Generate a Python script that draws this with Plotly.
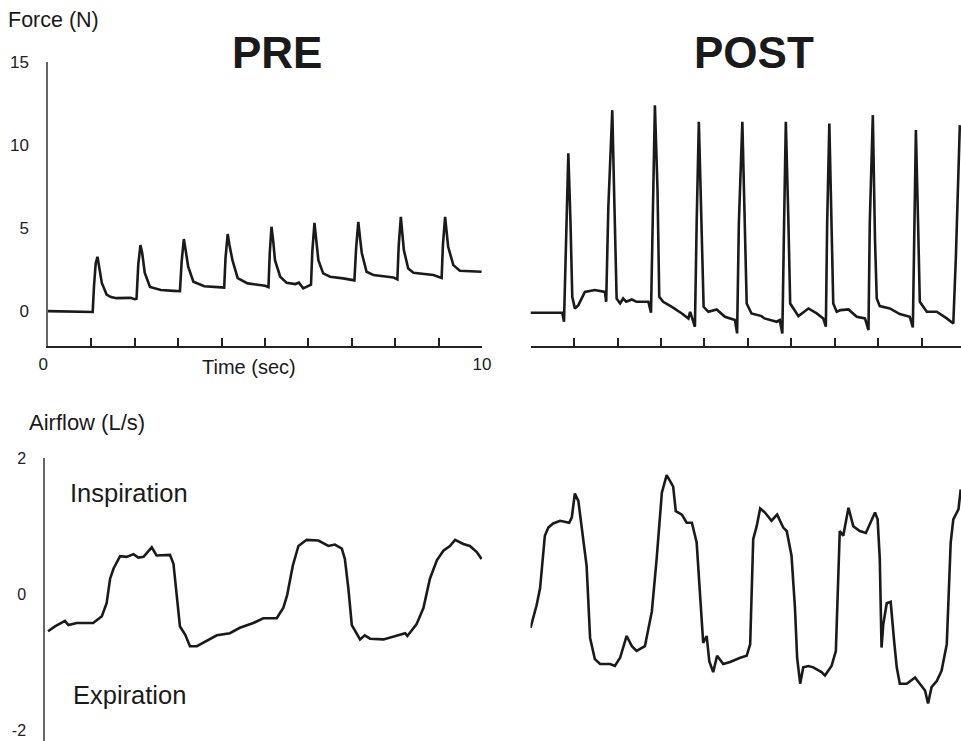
import plotly.graph_objects as go

W, H = 961, 741

# ---------------- data ----------------
pre_force_t = [0.0, 0.5, 1.0, 1.03, 1.06, 1.10, 1.14, 1.18, 1.24, 1.35, 1.45, 1.58, 1.9, 2.0, 2.04,
               2.08, 2.13, 2.17, 2.23, 2.35, 2.6, 2.9, 3.04, 3.08, 3.13, 3.17, 3.23, 3.35, 3.6, 4.0,
               4.06, 4.09, 4.14, 4.18, 4.25, 4.37, 4.6, 5.0, 5.08, 5.11, 5.15, 5.19, 5.23, 5.35, 5.5,
               5.7, 5.78, 5.88, 6.02, 6.06, 6.09, 6.14, 6.18, 6.23, 6.34, 6.5, 6.8, 7.02, 7.06, 7.10,
               7.15, 7.19, 7.23, 7.34, 7.5, 7.96, 8.05, 8.08, 8.13, 8.16, 8.2, 8.3, 8.42, 8.88, 9.03,
               9.07, 9.10, 9.15, 9.18, 9.22, 9.34, 9.49, 9.99]
pre_force_v = [0.0, -0.02, -0.05, -0.05, 1.5, 2.9, 3.27, 2.6, 1.7, 1.0, 0.85, 0.78, 0.8, 0.72, 0.75,
               2.8, 3.98, 3.5, 2.3, 1.45, 1.27, 1.22, 1.2, 3.0, 4.34, 3.7, 2.67, 1.77, 1.5, 1.43,
               1.42, 3.2, 4.64, 4.0, 3.07, 1.99, 1.67, 1.53, 1.45, 3.5, 5.08, 4.2, 3.07, 2.07, 1.7,
               1.63, 1.72, 1.37, 1.57, 1.6, 3.6, 5.32, 4.3, 3.07, 2.27, 2.07, 1.97, 1.83, 1.85, 3.8,
               5.38, 4.4, 3.5, 2.37, 2.17, 2.03, 1.91, 3.9, 5.68, 4.8, 3.67, 2.57, 2.31, 2.17, 2.03,
               2.0, 4.0, 5.68, 4.9, 3.87, 2.77, 2.43, 2.37]

post_force_t = [0.0, 0.73, 0.77, 0.81, 0.87, 0.92, 0.96, 1.02, 1.10, 1.25, 1.48, 1.71, 1.74, 1.79,
                1.88, 1.93, 1.98, 2.06, 2.13, 2.2, 2.33, 2.44, 2.71, 2.77, 2.81, 2.86, 2.92, 2.96,
                3.05, 3.25, 3.48, 3.63, 3.67, 3.78, 3.82, 3.87, 3.93, 3.98, 4.09, 4.28, 4.47, 4.70,
                4.75, 4.79, 4.87, 4.93, 4.97, 5.08, 5.31, 5.38, 5.66, 5.73, 5.79, 5.83, 5.87, 5.93,
                5.97, 6.16, 6.39, 6.58, 6.73, 6.79, 6.82, 6.87, 6.92, 6.96, 7.04, 7.13, 7.31, 7.5,
                7.69, 7.77, 7.80, 7.87, 7.92, 7.96, 8.03, 8.26, 8.49, 8.72, 8.79, 8.82, 8.86, 8.91,
                8.95, 9.11, 9.34, 9.57, 9.72, 9.78, 9.87]
post_force_v = [-0.1, -0.1, -0.64, 4.1, 9.5, 5.3, 0.86, 0.16, 0.36, 1.16, 1.27, 1.16, 0.56, 6.3,
                12.1, 6.3, 0.76, 0.46, 0.76, 0.56, 0.7, 0.56, 0.56, -0.1, 6.3, 12.4, 7.3, 0.86,
                0.56, 0.26, -0.14, -0.44, -0.04, -0.94, 5.3, 11.4, 5.3, 0.26, -0.04, 0.1, -0.34, -0.54,
                -1.34, 5.3, 11.4, 4.9, 0.46, -0.14, -0.3, -0.44, -0.64, -0.54, -1.34, 5.3, 11.4, 5.3,
                0.46, -0.3, 0.16, -0.14, -0.44, -0.94, 5.3, 11.3, 5.3, 0.46, -0.04, 0.06, 0.1, -0.34,
                -0.44, -1.14, 5.3, 11.8, 4.3, 0.76, 0.3, 0.16, -0.18, -0.34, -0.98, 5.3, 10.9, 5.3,
                0.56, -0.04, -0.04, -0.44, -0.74, 3.3, 11.2]

pre_air_t = [0.0, 0.16, 0.39, 0.47, 0.66, 1.04, 1.24, 1.35, 1.43, 1.51, 1.66, 1.81, 1.97, 2.08, 2.20,
             2.31, 2.39, 2.50, 2.81, 2.89, 2.96, 3.04, 3.16, 3.27, 3.43, 3.66, 3.89, 4.19, 4.42, 4.73,
             4.96, 5.27, 5.42, 5.51, 5.64, 5.77, 5.96, 6.23, 6.46, 6.61, 6.77, 6.84, 6.92, 7.0, 7.11,
             7.19, 7.30, 7.42, 7.73, 8.03, 8.23, 8.28, 8.49, 8.65, 8.80, 8.96, 9.11, 9.26, 9.38, 9.57,
             9.72, 9.88, 9.99]
pre_air_v = [-0.54, -0.47, -0.39, -0.45, -0.42, -0.42, -0.32, -0.13, 0.23, 0.38, 0.56, 0.55, 0.59, 0.54, 0.55,
             0.64, 0.69, 0.57, 0.58, 0.45, 0.04, -0.47, -0.59, -0.76, -0.76, -0.68, -0.60, -0.57, -0.49, -0.42,
             -0.35, -0.35, -0.20, -0.01, 0.42, 0.71, 0.80, 0.79, 0.71, 0.73, 0.67, 0.52, 0.09, -0.45, -0.57,
             -0.66, -0.60, -0.65, -0.66, -0.60, -0.57, -0.61, -0.44, -0.20, 0.23, 0.50, 0.64, 0.71, 0.80, 0.74,
             0.71, 0.62, 0.52]

post_air_t = [0.0, 0.14, 0.22, 0.33, 0.41, 0.52, 0.68, 0.89, 0.95, 1.02, 1.10, 1.21, 1.29, 1.37, 1.48,
              1.60, 1.83, 1.94, 2.06, 2.21, 2.33, 2.44, 2.63, 2.79, 2.90, 3.02, 3.13, 3.21, 3.28, 3.34,
              3.48, 3.59, 3.71, 3.82, 3.94, 3.97, 4.05, 4.11, 4.20, 4.29, 4.43, 4.59, 4.82, 4.97, 5.05,
              5.12, 5.20, 5.28, 5.39, 5.54, 5.67, 5.81, 5.89, 6.00, 6.08, 6.13, 6.20, 6.27, 6.39, 6.50,
              6.58, 6.69, 6.77, 6.92, 7.02, 7.08, 7.11, 7.19, 7.31, 7.42, 7.57, 7.71, 7.84, 7.92, 7.98,
              8.03, 8.07, 8.11, 8.19, 8.28, 8.36, 8.42, 8.49, 8.65, 8.84, 8.99, 9.07, 9.14, 9.22, 9.34,
              9.45, 9.57, 9.66, 9.72, 9.84, 9.89]
post_air_v = [-0.49, -0.16, 0.09, 0.86, 0.98, 1.04, 1.08, 1.05, 1.13, 1.48, 1.37, 0.86, 0.42, -0.64, -0.95,
              -1.02, -1.02, -1.05, -0.93, -0.61, -0.76, -0.83, -0.76, -0.25, 0.52, 1.49, 1.75, 1.66, 1.58, 1.22,
              1.17, 1.05, 1.05, 0.76, -0.44, -0.71, -0.61, -0.98, -1.14, -0.90, -1.02, -0.99, -0.93, -0.90, -0.73,
              0.81, 1.00, 1.26, 1.20, 1.08, 1.17, 0.98, 0.93, 0.57, -0.20, -0.93, -1.31, -1.07, -1.05, -1.07,
              -1.10, -1.14, -1.19, -1.05, -0.83, 0.28, 0.93, 0.86, 1.27, 1.00, 0.93, 0.90, 1.08, 1.20, 1.10,
              0.52, -0.78, -0.44, -0.13, -0.11, -0.69, -1.07, -1.31, -1.31, -1.22, -1.34, -1.41, -1.60, -1.36, -1.27,
              -1.12, -0.73, 0.76, 1.10, 1.25, 1.54]

force_ticks = [0, 5, 10, 15]
force_tick_labels = ["0", "5", "10", "15"]
air_ticks = [-2, 0, 2]
air_tick_labels = ["-2", "0", "2"]
time_ticks = [0, 1, 2, 3, 4, 5, 6, 7, 8, 9, 10]
time_tick_labels = ["0\u00a0\u00a0", "", "", "", "", "", "", "", "", "", "10"]
post_time_ticks = [1, 2, 3, 4, 5, 6, 7, 8, 9]

# ---------------- figure ----------------
FONT = "Liberation Sans, Arial, Helvetica, sans-serif"
LINE = dict(color="#1a1a1a", width=2.6)


def px_x(p):
    return p / W


def px_y(p):
    return 1 - p / H


fig = go.Figure()
fig.add_trace(go.Scatter(x=pre_force_t, y=pre_force_v, mode="lines", line=LINE, xaxis="x", yaxis="y"))
fig.add_trace(go.Scatter(x=post_force_t, y=post_force_v, mode="lines", line=LINE, xaxis="x2", yaxis="y2"))
fig.add_trace(go.Scatter(x=pre_air_t, y=pre_air_v, mode="lines", line=LINE, xaxis="x3", yaxis="y3"))
fig.add_trace(go.Scatter(x=post_air_t, y=post_air_v, mode="lines", line=LINE, xaxis="x4", yaxis="y4"))

top_dom = [px_y(346), px_y(62)]
bot_dom = [0.0, px_y(458)]
left_dom = [px_x(48), px_x(482)]
right_dom = [px_x(530.5), 1.0]

tickfont = dict(family=FONT, size=17, color="#222")
airtickfont = dict(family=FONT, size=16, color="#222")

common = dict(showgrid=False, zeroline=False, fixedrange=True, automargin=False)

fig.update_layout(
    template="none",
    width=W, height=H,
    margin=dict(l=0, r=0, t=0, b=0, pad=0),
    paper_bgcolor="white", plot_bgcolor="white",
    showlegend=False,
    xaxis=dict(domain=left_dom, range=[0, 10], anchor="y", showline=True, linecolor="#222", linewidth=2,
               tickvals=time_ticks, ticktext=time_tick_labels, ticks="inside", ticklen=8, tickwidth=1.5,
               tickcolor="#222", tickfont=tickfont, ticklabelstandoff=2, ticklabeloverflow="allow", **common),
    yaxis=dict(domain=top_dom, range=[-2.1, 15], anchor="x", showline=True, linecolor="#666", linewidth=1.5,
               tickvals=force_ticks, ticktext=force_tick_labels, ticks="", tickfont=tickfont,
               ticklabelstandoff=14, ticklabeloverflow="allow", **common),
    xaxis2=dict(domain=right_dom, range=[0, 9.897], anchor="y2", showline=True, linecolor="#222", linewidth=2,
                tickvals=post_time_ticks, ticks="inside", ticklen=8, tickwidth=1.5, tickcolor="#222",
                showticklabels=False, **common),
    yaxis2=dict(domain=top_dom, range=[-2.1, 15], anchor="x2", showline=False, showticklabels=False,
                ticks="", **common),
    xaxis3=dict(domain=[px_x(45), px_x(482)], range=[-0.07, 10], anchor="y3", showline=False,
                showticklabels=False, ticks="", **common),
    yaxis3=dict(domain=bot_dom, range=[-2.15, 2], anchor="x3", showline=True, linecolor="#666", linewidth=1.5,
                tickvals=air_ticks, ticktext=air_tick_labels, ticks="", tickfont=airtickfont,
                ticklabelstandoff=14, ticklabeloverflow="allow", **common),
    xaxis4=dict(domain=right_dom, range=[0, 9.897], anchor="y4", showline=False, showticklabels=False,
                ticks="", **common),
    yaxis4=dict(domain=bot_dom, range=[-2.15, 2], anchor="x4", showline=False, showticklabels=False,
                ticks="", **common),
)

ann = []


def add_text(text, x, y, size, xanchor="left", bold=False):
    t = f"<b>{text}</b>" if bold else text
    ann.append(dict(text=t, x=px_x(x), y=px_y(y), xref="paper", yref="paper", xanchor=xanchor,
                    yanchor="middle", showarrow=False, font=dict(family=FONT, size=size, color="#1a1a1a")))


add_text("Force (N)", 6, 20, 21.5)
add_text("PRE", 277, 52, 44, xanchor="center", bold=True)
add_text("POST", 754, 52, 44, xanchor="center", bold=True)
add_text("Time (sec)", 249, 367, 20, xanchor="center")
add_text("Airflow (L/s)", 27, 422, 22)
add_text("Inspiration", 68, 493, 25.5)
add_text("Expiration", 71, 695, 25.5)

fig.update_layout(annotations=ann)
fig.write_html(
    "out.html",
    config={"displayModeBar": False},
    post_script="document.body.style.margin='0';document.body.style.overflow='hidden';",
)
